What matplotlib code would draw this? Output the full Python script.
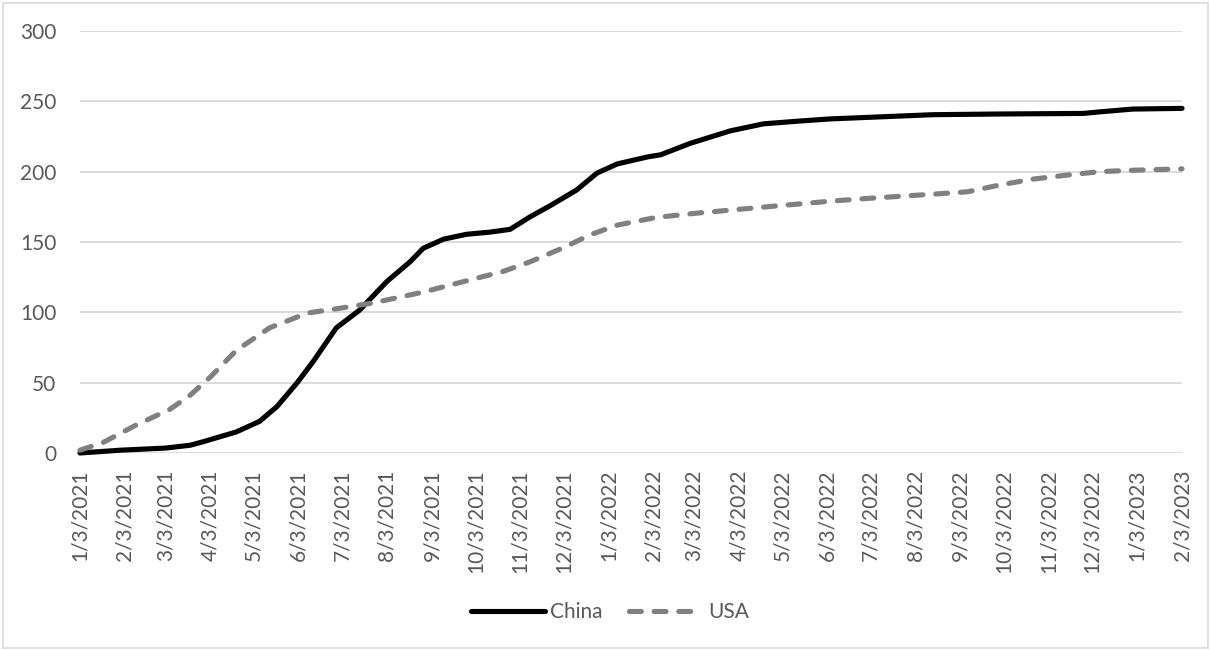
import matplotlib
matplotlib.use('Agg')
import matplotlib.pyplot as plt
from matplotlib.patches import Rectangle
import pandas as pd

china_dates = ['2021-01-03', '2021-01-31', '2021-03-03', '2021-03-20', '2021-03-29',
               '2021-04-21', '2021-05-07', '2021-05-19', '2021-06-02', '2021-06-13',
               '2021-06-29', '2021-07-15', '2021-08-03', '2021-08-19', '2021-08-28',
               '2021-09-11', '2021-09-27', '2021-10-13', '2021-10-27', '2021-11-10',
               '2021-11-24', '2021-12-12', '2021-12-26', '2022-01-09', '2022-01-30',
               '2022-02-08', '2022-02-28', '2022-03-28', '2022-04-20', '2022-05-15',
               '2022-06-05', '2022-08-15', '2022-09-30', '2022-11-27', '2022-12-08',
               '2022-12-31', '2023-02-03']
china_values = [0, 2, 3.5, 5.5, 8,
                15, 22.5, 33, 50, 65,
                89, 101.5, 122, 136, 145.5,
                152, 155.5, 157, 159, 168,
                176, 187, 199, 205.5, 210.5,
                212, 220, 229, 234, 236,
                237.5, 240.5, 241, 241.4, 242.5,
                244.5, 245]

usa_dates = ['2021-01-03', '2021-01-19', '2021-02-11', '2021-03-06', '2021-03-20',
             '2021-04-03', '2021-04-21', '2021-05-14', '2021-06-09', '2021-07-02',
             '2021-07-24', '2021-08-28', '2021-10-01', '2021-10-22', '2021-11-10',
             '2021-12-03', '2021-12-21', '2022-01-09', '2022-02-05', '2022-03-05',
             '2022-04-22', '2022-06-05', '2022-07-01', '2022-08-15', '2022-09-08',
             '2022-09-30', '2022-10-23', '2022-11-16', '2022-12-08', '2022-12-31',
             '2023-02-03']
usa_values = [2, 7.5, 20, 31, 41,
              54, 73, 89, 99.5, 103,
              106.6, 114.4, 123.5, 129, 136,
              146, 155, 162, 167.5, 170.5,
              175, 179, 181, 184, 185.7,
              190.5, 194.7, 197.6, 200, 201,
              202]

tick_dates = ['2021-01-03', '2021-02-03', '2021-03-03', '2021-04-03', '2021-05-03',
              '2021-06-03', '2021-07-03', '2021-08-03', '2021-09-03', '2021-10-03',
              '2021-11-03', '2021-12-03', '2022-01-03', '2022-02-03', '2022-03-03',
              '2022-04-03', '2022-05-03', '2022-06-03', '2022-07-03', '2022-08-03',
              '2022-09-03', '2022-10-03', '2022-11-03', '2022-12-03', '2023-01-03',
              '2023-02-03']
tick_labels = ['1/3/2021', '2/3/2021', '3/3/2021', '4/3/2021', '5/3/2021',
               '6/3/2021', '7/3/2021', '8/3/2021', '9/3/2021', '10/3/2021',
               '11/3/2021', '12/3/2021', '1/3/2022', '2/3/2022', '3/3/2022',
               '4/3/2022', '5/3/2022', '6/3/2022', '7/3/2022', '8/3/2022',
               '9/3/2022', '10/3/2022', '11/3/2022', '12/3/2022', '1/3/2023',
               '2/3/2023']
y_ticks = [0, 50, 100, 150, 200, 250, 300]

plt.rcParams['font.family'] = ['Lato', 'DejaVu Sans']
TXT = '#595959'
GRID = '#d9d9d9'
FS = 15

W, H = 1210, 650
fig = plt.figure(figsize=(W / 100, H / 100), dpi=100)
fig.patch.set_facecolor('white')
fig.add_artist(Rectangle((2.5 / W, 2.5 / H), 1 - 5 / W, 1 - 5 / H,
                         transform=fig.transFigure, fill=False,
                         edgecolor=GRID, linewidth=1.2))

ax = fig.add_axes([80 / W, 1 - 453 / H, (1182 - 80) / W, (453 - 31) / H])

cd = pd.to_datetime(china_dates)
ud = pd.to_datetime(usa_dates)
lw = 3.7
l1, = ax.plot(cd, china_values, color='black', linewidth=lw,
              solid_capstyle='round', solid_joinstyle='round', label='China', zorder=3)
l2, = ax.plot(ud, usa_values, color='#808080', linewidth=lw,
              linestyle=(0, (2.3, 2.5)), dash_capstyle='round', label='USA', zorder=3)

ax.set_ylim(0, 300)
ax.set_xlim(pd.Timestamp('2021-01-03'), pd.Timestamp('2023-02-03'))
ax.set_yticks(y_ticks)
ax.set_yticklabels([str(v) for v in y_ticks])
ax.set_xticks(pd.to_datetime(tick_dates))
ax.set_xticklabels(tick_labels, rotation=90)
ax.tick_params(axis='both', length=0, colors=TXT, labelsize=FS)
ax.tick_params(axis='y', pad=17)
ax.tick_params(axis='x', pad=12)
ax.yaxis.grid(True, color=GRID, linewidth=1.3)
ax.set_axisbelow(True)
for s in ax.spines.values():
    s.set_visible(False)
for l in (l1, l2):
    l.set_clip_on(False)

fig.legend(handles=[l1, l2], loc='center', bbox_to_anchor=(610 / W, 1 - 612 / H),
           ncol=2, frameon=False, fontsize=FS, labelcolor=TXT,
           handlelength=3.55, handletextpad=0.25, columnspacing=1.25)

fig.savefig('out.png', dpi=100)
